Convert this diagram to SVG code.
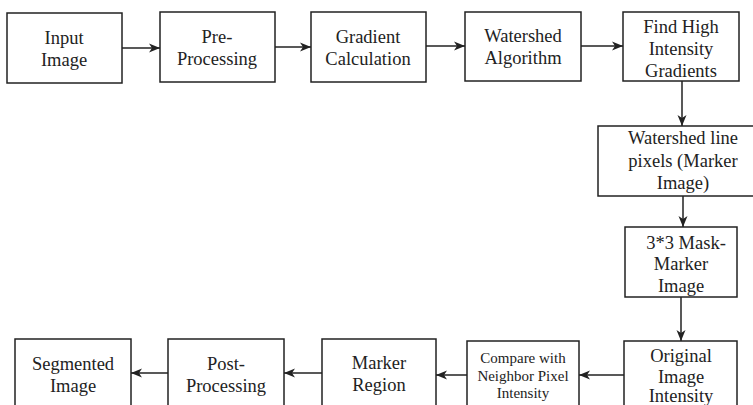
<svg xmlns="http://www.w3.org/2000/svg" width="753" height="405" viewBox="0 0 753 405">
  <style>
    .box { fill: #ffffff; stroke: #222222; stroke-width: 1.5; }
    .lbl { font-family: "Liberation Serif", "Times New Roman", serif; font-size: 18.5px; fill: #222222; text-anchor: middle; }
    .sm { font-size: 15px; }
    .edge { stroke: #222222; stroke-width: 1.5; fill: none; marker-end: url(#arrow); }
  </style>
  <defs>
    <marker id="arrow" markerUnits="userSpaceOnUse" markerWidth="14" markerHeight="12" refX="12" refY="6" orient="auto">
      <path d="M1,1.5 L12,6 L1,10.5 L4,6 z" fill="#222222"/>
    </marker>
  </defs>
  <rect width="753" height="405" fill="#ffffff"/>

  <g id="connectors">
    <line class="edge" x1="122" y1="48" x2="160" y2="48"/>
    <line class="edge" x1="275" y1="47" x2="311" y2="47"/>
    <line class="edge" x1="426" y1="46" x2="465" y2="46"/>
    <line class="edge" x1="581" y1="46" x2="623" y2="46"/>
    <line class="edge" x1="682" y1="81" x2="682" y2="126"/>
    <line class="edge" x1="683" y1="196" x2="683" y2="227"/>
    <line class="edge" x1="681" y1="297" x2="681" y2="341"/>
    <line class="edge" x1="624" y1="375" x2="579" y2="375"/>
    <line class="edge" x1="467" y1="375" x2="436" y2="375"/>
    <line class="edge" x1="322" y1="373" x2="284" y2="373"/>
    <line class="edge" x1="168" y1="373" x2="131" y2="373"/>
  </g>

  <g id="input">
    <rect class="box" x="7" y="13" width="115" height="70"/>
    <text class="lbl" x="64" y="44">Input</text>
    <text class="lbl" x="64" y="66">Image</text>
  </g>
  <g id="preprocessing">
    <rect class="box" x="160" y="12" width="115" height="70"/>
    <text class="lbl" x="217" y="43">Pre-</text>
    <text class="lbl" x="217" y="65">Processing</text>
  </g>
  <g id="gradient">
    <rect class="box" x="311" y="12" width="115" height="70"/>
    <text class="lbl" x="368" y="43">Gradient</text>
    <text class="lbl" x="368" y="65">Calculation</text>
  </g>
  <g id="watershed">
    <rect class="box" x="465" y="12" width="116" height="69"/>
    <text class="lbl" x="523" y="42">Watershed</text>
    <text class="lbl" x="523" y="64">Algorithm</text>
  </g>
  <g id="find-high">
    <rect class="box" x="623" y="12" width="116" height="69"/>
    <text class="lbl" x="681" y="33">Find High</text>
    <text class="lbl" x="681" y="55">Intensity</text>
    <text class="lbl" x="681" y="77">Gradients</text>
  </g>
  <g id="watershed-line">
    <rect class="box" x="598" y="126" width="170" height="70"/>
    <text class="lbl" x="683" y="144">Watershed line</text>
    <text class="lbl" x="683" y="167">pixels (Marker</text>
    <text class="lbl" x="683" y="189">Image)</text>
  </g>
  <g id="mask">
    <rect class="box" x="625" y="227" width="112" height="70"/>
    <text class="lbl" x="686" y="249">3*3 Mask-</text>
    <text class="lbl" x="681" y="270">Marker</text>
    <text class="lbl" x="681" y="292">Image</text>
  </g>
  <g id="original">
    <rect class="box" x="624" y="341" width="113" height="80"/>
    <text class="lbl" x="681" y="362">Original</text>
    <text class="lbl" x="681" y="383">Image</text>
    <text class="lbl" x="681" y="402">Intensity</text>
  </g>
  <g id="compare">
    <rect class="box" x="467" y="341" width="112" height="80"/>
    <text class="lbl sm" x="523" y="363">Compare with</text>
    <text class="lbl sm" x="523" y="381">Neighbor Pixel</text>
    <text class="lbl sm" x="523" y="398">Intensity</text>
  </g>
  <g id="marker-region">
    <rect class="box" x="322" y="339" width="114" height="80"/>
    <text class="lbl" x="379" y="369">Marker</text>
    <text class="lbl" x="379" y="391">Region</text>
  </g>
  <g id="postprocessing">
    <rect class="box" x="168" y="339" width="116" height="80"/>
    <text class="lbl" x="226" y="370">Post-</text>
    <text class="lbl" x="226" y="392">Processing</text>
  </g>
  <g id="segmented">
    <rect class="box" x="15" y="339" width="116" height="80"/>
    <text class="lbl" x="73" y="370">Segmented</text>
    <text class="lbl" x="73" y="392">Image</text>
  </g>
</svg>
